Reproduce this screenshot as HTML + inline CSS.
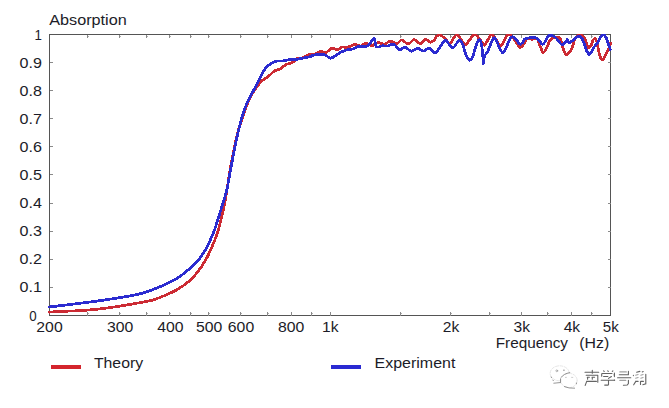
<!DOCTYPE html>
<html><head><meta charset="utf-8"><style>
html,body{margin:0;padding:0;background:#fff;}
body{width:669px;height:408px;overflow:hidden;font-family:"Liberation Sans",sans-serif;}
svg{display:block}
text{font-family:"Liberation Sans",sans-serif;fill:#1c1c28;}
</style></head><body>
<svg width="669" height="408" viewBox="0 0 669 408">
<defs><filter id="sb" x="-5%" y="-20%" width="110%" height="140%"><feGaussianBlur stdDeviation="0.35"/></filter><clipPath id="cp"><rect x="40" y="34" width="580" height="290"/></clipPath></defs>
<rect width="669" height="408" fill="#fff"/>
<g stroke="#555" stroke-width="1" fill="none" shape-rendering="crispEdges">
<rect x="49.5" y="34.5" width="561.0" height="281.0"/>
</g>
<g stroke="#8a8a8a" stroke-width="1" fill="none" shape-rendering="crispEdges">
<path d="M87.5,312.0 V315.5"/><path d="M87.5,34.5 V38.0"/><path d="M119.5,312.0 V315.5"/><path d="M119.5,34.5 V38.0"/><path d="M146.5,312.0 V315.5"/><path d="M146.5,34.5 V38.0"/><path d="M169.5,312.0 V315.5"/><path d="M169.5,34.5 V38.0"/><path d="M190.5,312.0 V315.5"/><path d="M190.5,34.5 V38.0"/><path d="M208.5,312.0 V315.5"/><path d="M208.5,34.5 V38.0"/><path d="M240.5,312.0 V315.5"/><path d="M240.5,34.5 V38.0"/><path d="M267.5,312.0 V315.5"/><path d="M267.5,34.5 V38.0"/><path d="M291.5,312.0 V315.5"/><path d="M291.5,34.5 V38.0"/><path d="M311.5,312.0 V315.5"/><path d="M311.5,34.5 V38.0"/><path d="M330.5,312.0 V315.5"/><path d="M330.5,34.5 V38.0"/><path d="M400.5,312.0 V315.5"/><path d="M400.5,34.5 V38.0"/><path d="M450.5,312.0 V315.5"/><path d="M450.5,34.5 V38.0"/><path d="M489.5,312.0 V315.5"/><path d="M489.5,34.5 V38.0"/><path d="M521.5,312.0 V315.5"/><path d="M521.5,34.5 V38.0"/><path d="M547.5,312.0 V315.5"/><path d="M547.5,34.5 V38.0"/><path d="M571.5,312.0 V315.5"/><path d="M571.5,34.5 V38.0"/><path d="M591.5,312.0 V315.5"/><path d="M591.5,34.5 V38.0"/><path d="M49.5,287.5 H52.5"/><path d="M607.5,287.5 H610.5"/><path d="M49.5,259.5 H52.5"/><path d="M607.5,259.5 H610.5"/><path d="M49.5,231.5 H52.5"/><path d="M607.5,231.5 H610.5"/><path d="M49.5,203.5 H52.5"/><path d="M607.5,203.5 H610.5"/><path d="M49.5,174.5 H52.5"/><path d="M607.5,174.5 H610.5"/><path d="M49.5,146.5 H52.5"/><path d="M607.5,146.5 H610.5"/><path d="M49.5,118.5 H52.5"/><path d="M607.5,118.5 H610.5"/><path d="M49.5,90.5 H52.5"/><path d="M607.5,90.5 H610.5"/><path d="M49.5,62.5 H52.5"/><path d="M607.5,62.5 H610.5"/>
</g>
<g stroke="#b0b0b0" stroke-width="1" fill="none" shape-rendering="crispEdges">
<path d="M88.0,313.5 h1"/><path d="M88.0,36.5 h1"/><path d="M120.0,313.5 h1"/><path d="M120.0,36.5 h1"/><path d="M147.0,313.5 h1"/><path d="M147.0,36.5 h1"/><path d="M170.0,313.5 h1"/><path d="M170.0,36.5 h1"/><path d="M191.0,313.5 h1"/><path d="M191.0,36.5 h1"/><path d="M209.0,313.5 h1"/><path d="M209.0,36.5 h1"/><path d="M241.0,313.5 h1"/><path d="M241.0,36.5 h1"/><path d="M268.0,313.5 h1"/><path d="M268.0,36.5 h1"/><path d="M312.0,313.5 h1"/><path d="M312.0,36.5 h1"/><path d="M401.0,313.5 h1"/><path d="M401.0,36.5 h1"/><path d="M451.0,313.5 h1"/><path d="M451.0,36.5 h1"/><path d="M490.0,313.5 h1"/><path d="M490.0,36.5 h1"/><path d="M548.0,313.5 h1"/><path d="M548.0,36.5 h1"/><path d="M592.0,313.5 h1"/><path d="M592.0,36.5 h1"/>
</g>
<g fill="none" stroke-linejoin="round" stroke-linecap="round" stroke-width="2.75" clip-path="url(#cp)" shape-rendering="crispEdges">
<path stroke="#cc2a33" d="M49.5,312.2 C51.2,312.1 55.8,311.6 60.0,311.4 C64.2,311.2 69.9,311.1 74.9,310.9 C79.9,310.6 84.8,310.3 89.8,309.9 C94.8,309.5 99.8,308.9 104.8,308.3 C109.8,307.7 114.7,306.9 119.7,306.1 C124.7,305.3 130.5,304.3 134.7,303.6 C138.9,302.9 142.1,302.3 145.0,301.7 C147.9,301.1 149.1,301.2 152.3,300.2 C155.6,299.2 160.4,297.3 164.5,295.6 C168.6,293.9 172.7,292.2 176.8,289.8 C180.9,287.4 185.3,284.5 189.0,281.3 C192.7,278.1 195.9,274.2 198.8,270.5 C201.7,266.8 203.9,263.1 206.2,259.0 C208.4,254.9 210.4,250.6 212.3,246.2 C214.2,241.8 216.2,236.7 217.6,232.3 C219.0,227.9 219.6,225.2 220.9,220.0 C222.2,214.8 223.7,209.1 225.2,201.0 C226.7,192.9 228.4,179.8 229.8,171.7 C231.2,163.5 232.3,158.2 233.5,152.1 C234.7,146.0 235.4,141.3 237.1,134.9 C238.8,128.5 241.7,119.6 243.8,113.5 C245.9,107.4 247.8,102.4 249.8,98.2 C251.8,94.0 253.8,91.2 255.8,88.3 C257.8,85.4 259.8,82.9 261.8,81.0 C263.8,79.1 265.9,78.5 267.9,76.9 C269.9,75.3 272.0,72.7 274.0,71.3 C276.0,69.9 278.1,69.9 280.1,68.8 C282.2,67.7 284.2,65.4 286.3,64.4 C288.4,63.4 290.6,63.6 292.4,62.6 C294.2,61.6 295.5,59.2 297.3,58.4 C299.1,57.6 301.3,58.3 303.4,57.6 C305.4,56.9 307.8,54.7 309.6,54.2 C311.5,53.7 312.7,54.8 314.5,54.4 C316.3,54.0 318.5,52.0 320.5,51.6 C322.5,51.2 324.5,52.8 326.4,52.2 C328.3,51.6 329.8,48.6 331.7,48.2 C333.6,47.8 336.0,49.9 337.7,49.7 C339.4,49.5 340.5,47.5 342.1,47.1 C343.7,46.7 345.3,47.9 347.4,47.4 C349.5,46.9 352.6,44.6 354.8,44.4 C357.0,44.1 358.9,46.1 360.8,45.9 C362.7,45.7 364.2,43.2 366.1,43.2 C368.0,43.2 370.0,45.7 372.0,45.6 C374.0,45.5 375.9,42.8 378.0,42.6 C380.1,42.4 382.7,44.6 384.7,44.4 C386.7,44.1 388.0,41.2 390.0,41.1 C392.0,41.0 394.7,43.9 396.7,43.7 C398.7,43.5 400.0,39.8 401.9,39.9 C403.8,40.0 406.1,44.2 408.2,44.1 C410.2,44.0 412.2,39.6 414.2,39.5 C416.2,39.4 418.3,43.8 420.2,43.7 C422.1,43.7 423.7,39.5 425.4,39.2 C427.1,39.0 429.1,42.1 430.6,42.2 C432.1,42.3 433.4,40.9 434.4,39.9 C435.4,38.9 435.6,37.0 436.6,36.2 C437.6,35.4 439.0,34.8 440.4,35.2 C441.8,35.6 443.2,37.1 444.8,38.5 C446.4,39.9 448.7,43.7 450.1,43.7 C451.5,43.7 452.0,40.0 453.1,38.5 C454.2,37.0 455.4,35.1 456.5,35.0 C457.6,34.9 458.8,36.5 459.8,37.7 C460.9,38.9 461.8,41.0 462.8,42.2 C463.8,43.4 464.7,45.3 465.8,44.9 C466.9,44.5 468.3,41.5 469.5,39.9 C470.7,38.3 472.1,36.3 473.2,35.5 C474.3,34.7 475.2,34.7 476.2,35.2 C477.2,35.7 478.2,37.2 479.2,38.5 C480.2,39.8 481.3,41.8 482.2,42.9 C483.1,44.0 483.6,45.6 484.5,45.2 C485.4,44.8 486.4,42.3 487.4,40.7 C488.4,39.1 489.5,36.5 490.4,35.5 C491.3,34.5 491.8,34.4 492.7,35.0 C493.6,35.6 494.4,37.4 495.7,39.2 C497.0,41.0 499.2,45.4 500.5,45.9 C501.8,46.4 502.5,43.8 503.5,42.2 C504.5,40.6 505.4,37.5 506.4,36.2 C507.4,35.0 508.4,34.6 509.4,34.7 C510.4,34.8 511.3,35.5 512.4,36.7 C513.5,38.0 515.0,40.4 516.2,42.2 C517.5,44.0 518.7,47.0 519.9,47.4 C521.1,47.8 522.5,45.8 523.6,44.4 C524.7,43.0 525.1,40.1 526.6,39.2 C528.1,38.3 530.9,39.3 532.6,39.2 C534.4,39.1 535.9,37.4 537.1,38.5 C538.4,39.6 539.1,43.6 540.1,45.9 C541.1,48.2 542.1,51.9 543.1,52.4 C544.1,52.9 545.0,50.8 546.1,48.9 C547.2,47.0 548.6,42.6 549.8,40.7 C551.0,38.8 552.1,38.3 553.5,37.7 C554.9,37.1 556.8,36.8 558.0,37.0 C559.2,37.2 559.9,38.1 560.5,39.2 C561.1,40.3 561.2,41.3 561.8,43.4 C562.4,45.5 563.5,50.0 564.3,51.9 C565.1,53.8 565.9,54.9 566.7,55.0 C567.5,55.1 568.3,53.7 569.2,52.5 C570.1,51.3 571.3,49.7 572.2,47.6 C573.1,45.5 573.8,41.7 574.7,39.7 C575.6,37.7 576.8,36.3 577.7,35.4 C578.6,34.5 579.3,34.3 580.2,34.5 C581.1,34.7 582.4,35.5 583.3,36.6 C584.2,37.7 585.0,39.3 585.7,40.9 C586.4,42.5 586.9,45.3 587.5,46.4 C588.1,47.5 588.8,47.8 589.4,47.6 C590.0,47.4 590.6,46.4 591.2,45.2 C591.8,44.0 592.4,41.4 593.0,40.3 C593.6,39.2 594.3,38.3 594.9,38.5 C595.5,38.7 596.1,39.5 596.7,41.5 C597.3,43.5 598.0,48.1 598.6,50.7 C599.2,53.4 599.8,55.9 600.4,57.4 C601.0,58.9 601.6,59.8 602.2,59.9 C602.8,60.0 603.4,59.1 604.1,58.0 C604.8,56.9 605.7,54.8 606.5,53.2 C607.3,51.6 608.4,49.9 609.0,48.3 C609.6,46.7 610.2,44.2 610.4,43.4"/>
<path stroke="#2b2bd0" d="M49.5,307.0 C51.2,306.8 55.8,306.2 60.0,305.7 C64.2,305.2 69.9,304.5 74.9,303.9 C79.9,303.3 84.8,302.6 89.8,302.0 C94.8,301.4 99.8,300.7 104.8,300.0 C109.8,299.3 114.7,298.4 119.7,297.6 C124.7,296.8 130.5,295.9 134.7,295.0 C138.9,294.1 142.1,293.3 145.0,292.4 C147.9,291.5 149.1,291.1 152.3,289.8 C155.6,288.5 160.4,286.7 164.5,284.8 C168.6,282.9 172.7,281.1 176.8,278.5 C180.9,275.9 185.3,272.4 189.0,269.2 C192.7,266.0 195.9,262.9 198.8,259.5 C201.7,256.1 203.9,252.5 206.2,248.5 C208.4,244.5 210.8,238.9 212.3,235.5 C213.8,232.1 213.7,232.5 215.2,228.0 C216.7,223.5 219.4,214.5 221.3,208.4 C223.2,202.3 225.0,197.4 226.5,191.3 C228.0,185.2 229.0,178.2 230.2,171.7 C231.4,165.2 232.7,158.2 233.9,152.1 C235.1,146.0 236.1,140.9 237.5,134.9 C238.9,128.9 240.8,121.1 242.3,116.0 C243.8,110.9 244.7,108.5 246.4,104.5 C248.2,100.5 250.8,95.5 252.8,91.8 C254.8,88.0 256.7,84.9 258.2,82.0 C259.7,79.1 260.7,76.7 261.8,74.6 C262.9,72.5 263.6,70.8 264.7,69.3 C265.8,67.8 267.3,66.5 268.5,65.4 C269.7,64.3 270.8,63.5 272.0,62.8 C273.2,62.1 274.2,61.5 276.0,61.2 C277.8,60.9 280.3,61.2 282.6,60.9 C284.9,60.6 287.4,59.9 290.0,59.6 C292.6,59.3 295.9,59.5 298.5,59.1 C301.1,58.7 304.0,57.8 305.9,57.4 C307.8,57.0 308.6,57.1 310.0,56.7 C311.4,56.3 312.0,55.2 314.5,54.9 C317.0,54.6 322.3,54.3 325.0,54.9 C327.7,55.5 328.4,58.6 330.9,58.2 C333.4,57.8 337.1,54.1 339.9,52.7 C342.6,51.3 345.2,50.3 347.4,49.7 C349.6,49.1 351.3,49.5 353.3,48.9 C355.3,48.3 357.3,46.6 359.3,46.2 C361.3,45.8 363.6,47.1 365.3,46.7 C367.1,46.3 368.4,45.1 369.8,43.7 C371.2,42.3 372.7,39.2 373.5,38.5 C374.3,37.8 374.2,38.0 374.6,39.2 C375.0,40.4 375.2,44.6 375.8,45.9 C376.4,47.2 377.0,47.1 378.0,47.1 C379.0,47.1 380.1,46.1 381.7,45.9 C383.3,45.7 385.9,46.1 387.7,45.9 C389.4,45.6 390.9,44.5 392.2,44.4 C393.4,44.3 393.9,44.3 395.2,45.2 C396.4,46.1 398.0,49.4 399.7,49.7 C401.4,50.0 403.3,46.9 405.2,47.1 C407.1,47.4 409.1,51.0 411.2,51.2 C413.3,51.4 415.9,48.2 417.9,48.2 C419.9,48.2 421.3,51.2 423.2,51.2 C425.1,51.2 427.1,47.9 429.1,48.2 C431.1,48.5 433.5,53.0 435.1,53.1 C436.7,53.2 437.5,50.7 438.9,48.9 C440.3,47.1 442.2,43.6 443.3,42.2 C444.4,40.8 444.6,40.0 445.6,40.4 C446.6,40.8 448.1,43.2 449.3,44.4 C450.6,45.6 451.7,48.1 453.1,47.7 C454.5,47.3 456.3,43.4 457.5,42.2 C458.7,41.0 459.3,40.0 460.2,40.4 C461.1,40.8 461.9,42.1 462.8,44.4 C463.7,46.7 464.7,51.5 465.8,54.1 C466.9,56.7 468.4,59.6 469.5,60.1 C470.6,60.6 471.5,59.2 472.5,57.1 C473.5,55.0 474.6,50.0 475.5,47.4 C476.4,44.8 477.0,42.6 477.7,41.4 C478.4,40.1 479.1,39.4 479.7,39.9 C480.3,40.4 481.0,41.9 481.5,44.4 C482.0,46.9 482.4,51.7 482.7,54.9 C483.0,58.1 483.1,63.4 483.4,63.6 C483.7,63.9 483.7,58.6 484.5,56.4 C485.3,54.2 487.1,52.6 488.2,50.4 C489.3,48.1 490.2,45.0 491.2,42.9 C492.2,40.8 493.2,37.8 494.2,37.7 C495.2,37.6 496.4,40.6 497.2,42.2 C498.0,43.8 498.1,45.6 499.0,47.4 C499.9,49.1 501.6,52.5 502.7,52.7 C503.8,53.0 504.6,51.0 505.7,48.9 C506.8,46.8 508.3,41.9 509.4,39.9 C510.5,37.9 511.4,36.9 512.4,36.7 C513.4,36.5 514.1,37.3 515.4,38.5 C516.6,39.7 518.6,43.5 519.9,44.1 C521.1,44.7 522.0,43.1 522.9,42.2 C523.8,41.3 523.9,39.5 525.1,38.8 C526.4,38.0 528.8,38.0 530.4,37.7 C532.0,37.5 533.4,36.9 534.8,37.3 C536.2,37.7 537.4,38.7 538.6,39.9 C539.9,41.1 541.2,44.1 542.3,44.4 C543.4,44.6 544.3,42.8 545.3,41.4 C546.3,40.0 547.2,37.2 548.3,36.2 C549.4,35.2 550.8,35.2 552.0,35.5 C553.2,35.8 554.5,36.6 555.8,37.7 C557.0,38.8 558.4,41.0 559.5,42.2 C560.6,43.4 561.3,45.1 562.4,45.0 C563.5,44.9 565.3,42.4 566.1,41.5 C566.9,40.6 566.8,39.5 567.3,39.7 C567.8,39.9 568.4,42.5 569.2,42.7 C570.0,42.9 571.1,41.7 572.2,40.9 C573.3,40.1 574.8,38.7 575.9,37.9 C577.0,37.1 578.0,35.9 579.0,36.0 C580.0,36.1 581.1,37.1 582.0,38.5 C582.9,39.9 583.7,42.5 584.5,44.6 C585.3,46.7 586.1,49.7 586.9,51.3 C587.7,52.9 588.4,54.2 589.1,54.4 C589.8,54.6 590.4,53.6 591.2,52.5 C592.0,51.4 592.8,49.0 593.7,47.6 C594.6,46.2 595.8,45.3 596.7,44.0 C597.6,42.7 598.4,41.1 599.2,39.7 C600.0,38.3 600.9,36.6 601.6,35.8 C602.3,35.0 602.8,34.6 603.5,34.8 C604.2,35.0 605.1,35.7 605.9,37.2 C606.7,38.7 607.5,42.0 608.3,44.0 C609.0,46.0 610.0,48.6 610.4,49.5"/>
</g>
<rect x="51" y="365" width="30" height="4" fill="#d4252d"/>
<rect x="331" y="365" width="30" height="4" fill="#2a2ad2"/>
<text x="49.5" y="331.8" font-size="14.2" text-anchor="middle" textLength="26.3" lengthAdjust="spacingAndGlyphs">200</text><text x="120.2" y="331.8" font-size="14.2" text-anchor="middle" textLength="26.3" lengthAdjust="spacingAndGlyphs">300</text><text x="170.3" y="331.8" font-size="14.2" text-anchor="middle" textLength="26.3" lengthAdjust="spacingAndGlyphs">400</text><text x="209.2" y="331.8" font-size="14.2" text-anchor="middle" textLength="26.3" lengthAdjust="spacingAndGlyphs">500</text><text x="241.0" y="331.8" font-size="14.2" text-anchor="middle" textLength="26.3" lengthAdjust="spacingAndGlyphs">600</text><text x="291.1" y="331.8" font-size="14.2" text-anchor="middle" textLength="26.3" lengthAdjust="spacingAndGlyphs">800</text><text x="330.3" y="331.8" font-size="14.2" text-anchor="middle" textLength="16.5" lengthAdjust="spacingAndGlyphs">1k</text><text x="451.1" y="331.8" font-size="14.2" text-anchor="middle" textLength="16.5" lengthAdjust="spacingAndGlyphs">2k</text><text x="521.8" y="331.8" font-size="14.2" text-anchor="middle" textLength="16.5" lengthAdjust="spacingAndGlyphs">3k</text><text x="571.9" y="331.8" font-size="14.2" text-anchor="middle" textLength="16.5" lengthAdjust="spacingAndGlyphs">4k</text><text x="610.8" y="331.8" font-size="14.2" text-anchor="middle" textLength="16" lengthAdjust="spacingAndGlyphs">5k</text><text x="36.6" y="320.5" font-size="14.2" text-anchor="end" textLength="7.4" lengthAdjust="spacingAndGlyphs">0</text><text x="42" y="292.4" font-size="14.2" text-anchor="end" textLength="22.4" lengthAdjust="spacingAndGlyphs">0.1</text><text x="42" y="264.3" font-size="14.2" text-anchor="end" textLength="22.4" lengthAdjust="spacingAndGlyphs">0.2</text><text x="42" y="236.2" font-size="14.2" text-anchor="end" textLength="22.4" lengthAdjust="spacingAndGlyphs">0.3</text><text x="42" y="208.1" font-size="14.2" text-anchor="end" textLength="22.4" lengthAdjust="spacingAndGlyphs">0.4</text><text x="42" y="180.0" font-size="14.2" text-anchor="end" textLength="22.4" lengthAdjust="spacingAndGlyphs">0.5</text><text x="42" y="151.9" font-size="14.2" text-anchor="end" textLength="22.4" lengthAdjust="spacingAndGlyphs">0.6</text><text x="42" y="123.8" font-size="14.2" text-anchor="end" textLength="22.4" lengthAdjust="spacingAndGlyphs">0.7</text><text x="42" y="95.7" font-size="14.2" text-anchor="end" textLength="22.4" lengthAdjust="spacingAndGlyphs">0.8</text><text x="42" y="67.6" font-size="14.2" text-anchor="end" textLength="22.4" lengthAdjust="spacingAndGlyphs">0.9</text><text x="42" y="39.5" font-size="14.2" text-anchor="end" textLength="7.4" lengthAdjust="spacingAndGlyphs">1</text><text x="49.2" y="25" font-size="14" text-anchor="start" textLength="77.6" lengthAdjust="spacingAndGlyphs">Absorption</text><text x="495.7" y="347.8" font-size="14" text-anchor="start" textLength="72.3" lengthAdjust="spacingAndGlyphs">Frequency</text><text x="579.3" y="347.8" font-size="14" text-anchor="start" textLength="30" lengthAdjust="spacingAndGlyphs">(Hz)</text><text x="93.9" y="368" font-size="14" text-anchor="start" textLength="49.2" lengthAdjust="spacingAndGlyphs">Theory</text><text x="374.6" y="368" font-size="14" text-anchor="start" textLength="80.8" lengthAdjust="spacingAndGlyphs">Experiment</text>
<g fill="none" stroke-linecap="round" filter="url(#sb)">
<g stroke="#e6e6e6" stroke-width="1" stroke-dasharray="3 1.5">
<ellipse cx="559.7" cy="373.3" rx="9.6" ry="7.5"/>
<ellipse cx="569" cy="380.5" rx="8.2" ry="7.2" fill="#fff"/>
</g>
<g stroke="#6a6a6a" stroke-width="1" opacity="0.7">
<path d="M561.3,377.2 Q563.5,373.8 569.8,372.6"/>
<path d="M564.4,386.6 Q569,388.6 574.6,388.2"/>
<path d="M553.8,383.2 L560,382.6 M560.5,378.8 V382.7"/>
<path d="M551.2,377 L551.5,377.6 M552.8,380 L553.4,380.7 M576.4,383 V383.8"/>
<path d="M563.4,370.2 H564.4"/>
<circle cx="556.8" cy="370.8" r="0.9" stroke-width="0.7"/>
</g>
<g stroke="#aaa" stroke-width="1" opacity="0.6"><path d="M565.4,377.4 H566.4 M571.6,377.4 H572.8"/></g>
</g>
<g fill="none" stroke="#484848" stroke-width="1.1" stroke-linecap="round" opacity="0.85" filter="url(#sb)">
<!-- sheng -->
<path d="M585,372.2 H598.7 M592.3,370.3 V373.3 M586.2,375.3 H597.8 M597.8,375.4 V382.2 M587.3,377.2 H589.4 M592,377.2 H594.6 M587.6,377.3 V379.2 M592.3,377.3 V379.2 M586.7,381.4 H596.4 M586.7,381.4 L585.2,385.4"/>
<!-- xue -->
<path d="M603.6,370.8 L604.2,371.4 M607.7,370.8 L608.3,371.4 M612.3,371.4 L612.9,370.8 M602,373.5 H612 M601.7,373.8 V376.2 M614.4,373 V376.6 M603.6,376.5 H607.9 M611.4,376.5 L608.5,378.4 M601.2,380.3 H614.6 M608.5,380.7 V384.8 M604.7,385.1 H608 "/>
<!-- hao -->
<path d="M628.4,371.4 V374.8 M619.3,374.8 H628.4 M617.6,377.8 H630.8 M628.4,380.2 V383.6 L627.2,385 L623.4,385.3 M614.3,374.2 V375.3 M614.3,380.1 H614.6"/>
<path d="M619.8,371.9 H626.4 M619.8,380.4 H625.8" opacity="0.6"/>
<!-- jiao -->
<path d="M636.6,372.2 L639.9,371.4 M642.2,371.9 L643.2,371.5 M645.8,374.2 V383.9 L642.8,384.7 M635.8,381.4 H638.1 M640.8,381.4 H643.4 M635.8,381.4 L633.7,384.8 M640.5,381.5 V384.5 M633.4,375.2 V375.6"/>
<path d="M635.6,375.2 L638.1,374.5 M640.8,375.2 L643.1,374.5 M635.6,378.2 L638.1,377.5 M640.8,378.2 L643.1,377.5" opacity="0.6"/>
</g>
</svg>
</body></html>
